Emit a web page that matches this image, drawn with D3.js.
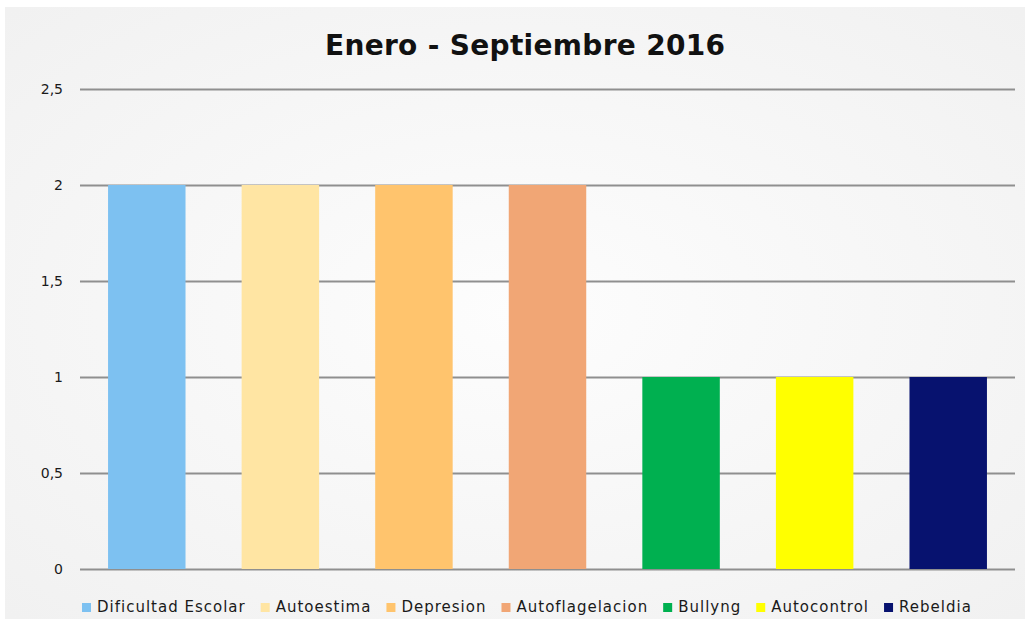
<!DOCTYPE html>
<html>
<head>
<meta charset="utf-8">
<script src="https://cdn.jsdelivr.net/npm/d3@7"></script>
<style>
  body { margin: 0; background: #fff; }
  text { font-family: "DejaVu Sans", sans-serif; }
</style>
</head>
<body>
<div id="chart"></div>
<script>
var width  = 1032;
var height = 626;

// data
var categories = ["Dificultad Escolar", "Autoestima", "Depresion", "Autoflagelacion", "Bullyng", "Autocontrol", "Rebeldia"];
var values     = [2, 2, 2, 2, 1, 1, 1];
var colors     = ["#7DC1F1", "#FFE5A3", "#FFC46D", "#F1A675", "#00B050", "#FFFF00", "#07126F"];
var yTicks     = [0, 0.5, 1, 1.5, 2, 2.5];

var svg = d3.select("#chart")
    .append("svg")
    .attr("width", width)
    .attr("height", height);

var defs = svg.append("defs");
var grad = defs.append("radialGradient")
    .attr("id", "bg")
    .attr("cx", "50%").attr("cy", "50%").attr("r", "70%");
grad.append("stop").attr("offset", "0%").attr("stop-color", "#fdfdfd");
grad.append("stop").attr("offset", "100%").attr("stop-color", "#f1f1f1");

svg.append("rect")
    .attr("x", 5).attr("y", 7)
    .attr("width", 1020).attr("height", 612)
    .attr("fill", "url(#bg)");

var x = d3.scaleBand()
    .domain(categories)
    .range([80, 1015])
    .paddingInner(0.42)
    .paddingOuter(0.21);

var y = d3.scaleLinear()
    .domain([0, 2.5])
    .range([569, 89]);

var fmt = function(d) { return String(d).replace(".", ","); };

// grid
svg.append("g")
  .selectAll("line")
  .data(yTicks)
  .enter()
  .append("line")
  .attr("x1", 80)
  .attr("x2", 1015)
  .attr("y1", function(d) { return y(d) + 0.5; })
  .attr("y2", function(d) { return y(d) + 0.5; })
  .attr("stroke", "#8f8f8f")
  .attr("stroke-width", 2);

// y labels
svg.append("g")
  .selectAll("text")
  .data(yTicks)
  .enter()
  .append("text")
  .attr("x", 63)
  .attr("y", function(d) { return y(d); })
  .attr("dy", "0.35em")
  .attr("text-anchor", "end")
  .attr("font-size", 14)
  .attr("fill", "#1a1a1a")
  .text(fmt);

// bars
svg.append("g")
  .selectAll("rect")
  .data(values)
  .enter()
  .append("rect")
  .attr("x", function(d, i) { return x(categories[i]); })
  .attr("width", x.bandwidth())
  .attr("y", function(d) { return y(d); })
  .attr("height", function(d) { return y(0) - y(d); })
  .attr("fill", function(d, i) { return colors[i]; });

// title
svg.append("text")
  .attr("x", 525)
  .attr("y", 55)
  .attr("text-anchor", "middle")
  .attr("font-size", 28)
  .attr("font-weight", "bold")
  .attr("textLength", 400)
  .attr("lengthAdjust", "spacing")
  .attr("fill", "#111")
  .text("Enero - Septiembre 2016");

// legend
var lg = svg.append("g");
var lx = 82;
categories.forEach(function(c, i) {
  lg.append("rect")
    .attr("x", lx)
    .attr("y", 603)
    .attr("width", 9)
    .attr("height", 9)
    .attr("fill", colors[i]);
  var t = lg.append("text")
    .attr("x", lx + 15)
    .attr("y", 612)
    .attr("font-size", 15)
    .attr("letter-spacing", 1)
    .attr("fill", "#1a1a1a")
    .text(c);
  lx += 15 + t.node().getComputedTextLength() + 15;
});
</script>
</body>
</html>
